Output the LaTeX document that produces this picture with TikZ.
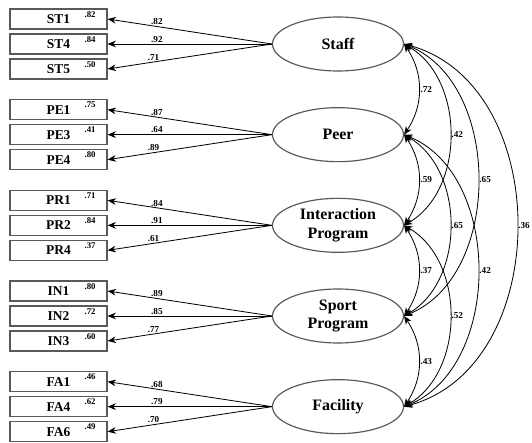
\documentclass[tikz,border=0pt]{standalone}
\usepackage{fontspec}
\setmainfont{Liberation Serif}
\usetikzlibrary{shapes.geometric, positioning, arrows.meta}

\begin{document}
\begin{tikzpicture}[
    ->, >={Stealth[length=2.5mm, width=2mm]}, line width=0.7pt, node distance=0.75cm,
    ind/.style={draw=black!65, line width=1pt, minimum width=2.91cm, minimum height=0.6cm,
        font=\bfseries\fontsize{11.5}{12}\selectfont},
    lat/.style={ellipse, draw=black!65, line width=1pt, minimum width=3.93cm, minimum height=1.62cm,
        inner sep=0pt, align=center, font=\bfseries\fontsize{13.6}{16}\selectfont},
    err/.style={font=\bfseries\fontsize{7.5}{8}\selectfont, inner sep=0.5pt, anchor=north east},
    lbl/.style={font=\bfseries\fontsize{7.8}{8}\selectfont, inner sep=1pt}
]

    \useasboundingbox (0,0) rectangle (15.96,-13.29);

    % indicators
    \node[ind] (ST1) at (1.755,-0.57) {ST1};
    \node[ind, below of=ST1] (ST4) {ST4};
    \node[ind, below of=ST4] (ST5) {ST5};
    \node[ind, below of=ST5, node distance=1.22cm] (PE1) {PE1};
    \node[ind, below of=PE1] (PE3) {PE3};
    \node[ind, below of=PE3] (PE4) {PE4};
    \node[ind, below of=PE4, node distance=1.22cm] (PR1) {PR1};
    \node[ind, below of=PR1] (PR2) {PR2};
    \node[ind, below of=PR2] (PR4) {PR4};
    \node[ind, below of=PR4, node distance=1.22cm] (IN1) {IN1};
    \node[ind, below of=IN1] (IN2) {IN2};
    \node[ind, below of=IN2] (IN3) {IN3};
    \node[ind, below of=IN3, node distance=1.22cm] (FA1) {FA1};
    \node[ind, below of=FA1] (FA4) {FA4};
    \node[ind, below of=FA4] (FA6) {FA6};

    % squared multiple correlations
    \node[err] (eST1) at ([shift={(-0.33,-0.06)}]ST1.north east) {.82};
    \node[err] (eST4) at ([shift={(-0.33,-0.06)}]ST4.north east) {.84};
    \node[err] (eST5) at ([shift={(-0.33,-0.06)}]ST5.north east) {.50};
    \node[err] (ePE1) at ([shift={(-0.33,-0.06)}]PE1.north east) {.75};
    \node[err] (ePE3) at ([shift={(-0.33,-0.06)}]PE3.north east) {.41};
    \node[err] (ePE4) at ([shift={(-0.33,-0.06)}]PE4.north east) {.80};
    \node[err] (ePR1) at ([shift={(-0.33,-0.06)}]PR1.north east) {.71};
    \node[err] (ePR2) at ([shift={(-0.33,-0.06)}]PR2.north east) {.84};
    \node[err] (ePR4) at ([shift={(-0.33,-0.06)}]PR4.north east) {.37};
    \node[err] (eIN1) at ([shift={(-0.33,-0.06)}]IN1.north east) {.80};
    \node[err] (eIN2) at ([shift={(-0.33,-0.06)}]IN2.north east) {.72};
    \node[err] (eIN3) at ([shift={(-0.33,-0.06)}]IN3.north east) {.60};
    \node[err] (eFA1) at ([shift={(-0.33,-0.06)}]FA1.north east) {.46};
    \node[err] (eFA4) at ([shift={(-0.33,-0.06)}]FA4.north east) {.62};
    \node[err] (eFA6) at ([shift={(-0.33,-0.06)}]FA6.north east) {.49};

    % latent factors
    \node[lat, right of=ST4, node distance=8.385cm] (Staff) {Staff};
    \node[lat, right of=PE3, node distance=8.385cm] (Peer) {Peer};
    \node[lat, right of=PR2, node distance=8.385cm] (Inter) {Interaction\\Program};
    \node[lat, right of=IN2, node distance=8.385cm] (Sport) {Sport\\Program};
    \node[lat, right of=FA4, node distance=8.385cm] (Fac) {Facility};

    % loadings
    \path   (Staff.west) edge node[lbl, above, pos=0.7] {.82} (ST1.east)
            (Staff.west) edge node[lbl, above, pos=0.7] {.92} (ST4.east)
            (Staff.west) edge node[lbl, above, pos=0.72] {.71} (ST5.east)
            (Peer.west) edge node[lbl, above, pos=0.7] {.87} (PE1.east)
            (Peer.west) edge node[lbl, above, pos=0.7] {.64} (PE3.east)
            (Peer.west) edge node[lbl, above, pos=0.72] {.89} (PE4.east)
            (Inter.west) edge node[lbl, above, pos=0.7] {.84} (PR1.east)
            (Inter.west) edge node[lbl, above, pos=0.7] {.91} (PR2.east)
            (Inter.west) edge node[lbl, above, pos=0.72] {.61} (PR4.east)
            (Sport.west) edge node[lbl, above, pos=0.7] {.89} (IN1.east)
            (Sport.west) edge node[lbl, above, pos=0.7] {.85} (IN2.east)
            (Sport.west) edge node[lbl, above, pos=0.72] {.77} (IN3.east)
            (Fac.west) edge node[lbl, above, pos=0.7] {.68} (FA1.east)
            (Fac.west) edge node[lbl, above, pos=0.7] {.79} (FA4.east)
            (Fac.west) edge node[lbl, above, pos=0.72] {.70} (FA6.east);

    % correlations
    \path[<->]
            (Staff.east) edge [bend left=34] node[lbl, right] {.72} (Peer.east)
            (Staff.east) edge [bend left=60] node[lbl, right] {.42} (Inter.east)
            (Staff.east) edge [bend left=68] node[lbl, right] {.65} (Sport.east)
            (Staff.east) edge [bend left=75, looseness=1.1] node[lbl, right] {.36} (Fac.east)
            (Peer.east) edge [bend left=34] node[lbl, right] {.59} (Inter.east)
            (Peer.east) edge [bend left=60] node[lbl, right] {.65} (Sport.east)
            (Peer.east) edge [bend left=68] node[lbl, right] {.42} (Fac.east)
            (Inter.east) edge [bend left=34] node[lbl, right] {.37} (Sport.east)
            (Inter.east) edge [bend left=60] node[lbl, right] {.52} (Fac.east)
            (Sport.east) edge [bend left=34] node[lbl, right] {.43} (Fac.east);

\end{tikzpicture}
\end{document}
